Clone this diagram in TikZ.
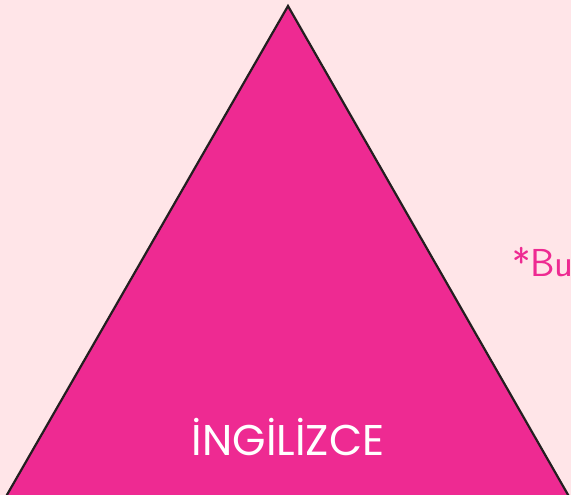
\documentclass[tikz,border=0pt]{standalone}
\usepackage{fontspec}
\setmainfont{Poppins}
\usepackage{xcolor}
\usepackage{tikz}
\definecolor{blush}{HTML}{FFE5E8}
\definecolor{magenta}{HTML}{EE2A92}
\definecolor{ink}{HTML}{231F20}

\begin{document}
\begin{tikzpicture}[x=1pt,y=-1pt]
\useasboundingbox (0,0) rectangle (571,495);
\clip (0,0) rectangle (571,495);
\fill[blush] (0,0) rectangle (571,495);
\coordinate (apex) at (288,6);
\coordinate (left) at (4,500);
\coordinate (right) at (571,500);
\filldraw[fill=magenta,draw=ink,line width=2.2pt,line join=miter] (apex) -- (left) -- (right) -- cycle;
\node[white,font=\fontsize{43}{43}\selectfont] (lesson) at (288,437) {İNGİLİZCE};
\node[magenta,anchor=west,inner sep=0pt,font=\fontsize{39}{39}\selectfont\sffamily] (note) at (512,262) {*Bu};
\end{tikzpicture}
\end{document}
